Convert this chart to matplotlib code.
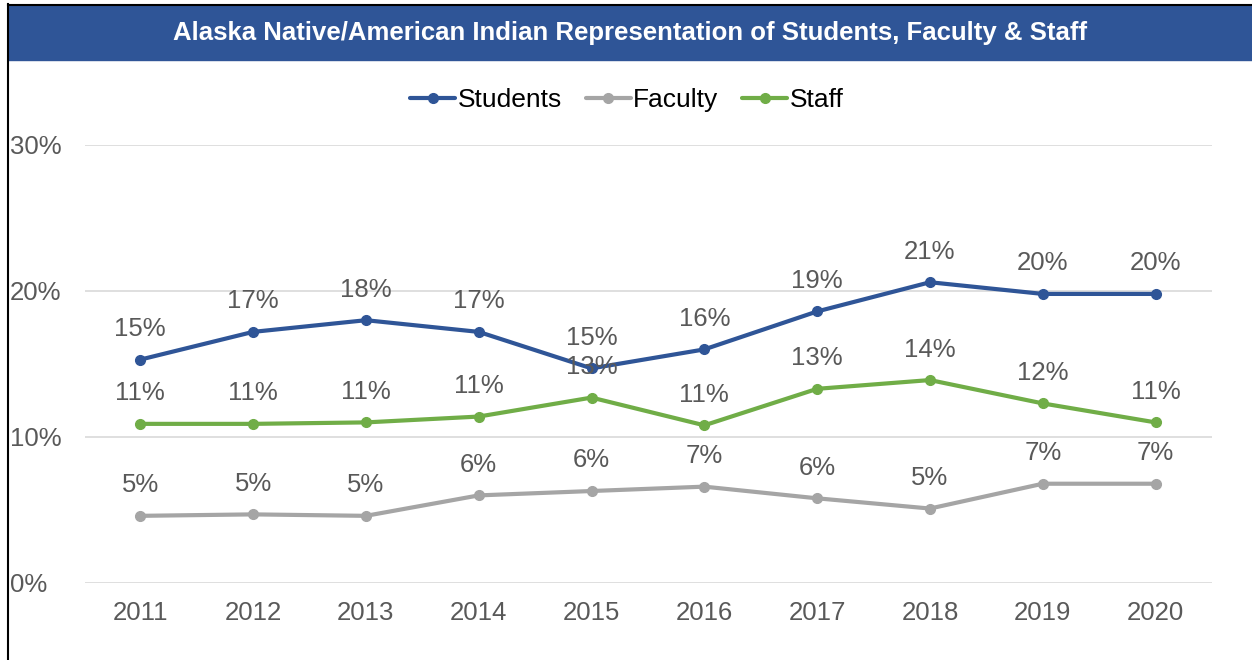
import matplotlib.pyplot as plt
from matplotlib.lines import Line2D
from matplotlib.patches import Rectangle
from matplotlib.ticker import PercentFormatter

plt.rcParams['font.family'] = ['Liberation Sans', 'DejaVu Sans']

## data
years = [2011, 2012, 2013, 2014, 2015, 2016, 2017, 2018, 2019, 2020]
students = [0.153, 0.172, 0.180, 0.172, 0.147, 0.160, 0.186, 0.206, 0.198, 0.198]
faculty = [0.046, 0.047, 0.046, 0.060, 0.063, 0.066, 0.058, 0.051, 0.068, 0.068]
staff = [0.109, 0.109, 0.110, 0.114, 0.127, 0.108, 0.133, 0.139, 0.123, 0.110]
yticks = [0, 0.10, 0.20, 0.30]
title = "Alaska Native/American Indian Representation of Students, Faculty & Staff"

series = [("Students", students, "#2F5597"),
          ("Faculty", faculty, "#A5A5A5"),
          ("Staff", staff, "#70AD47")]

W, H = 1252, 660
fig = plt.figure(figsize=(W / 100, H / 100), dpi=100)
ax = fig.add_axes([85 / W, 1 - 583 / H, (1212 - 85) / W, (583 - 145) / H])

# title bar
fig.add_artist(Rectangle((8 / W, 1 - 60 / H), 1 - 8 / W, 54 / H,
                         transform=fig.transFigure, color="#2F5597", zorder=0))
fig.text(630 / W, 1 - 33 / H, title, color="white", fontsize=18.5,
         fontweight="bold", ha="center", va="center")
# black frame edges (left + top)
fig.add_artist(Line2D([7.5 / W, 7.5 / W], [0, 1 - 4 / H], color="black", lw=1.5,
                      transform=fig.transFigure))
fig.add_artist(Line2D([7.5 / W, 1], [1 - 4.5 / H, 1 - 4.5 / H], color="black", lw=1.5,
                      transform=fig.transFigure))

for name, vals, col in series:
    ax.plot(years, vals, '-o', color=col, lw=3, markersize=7, label=name,
            solid_capstyle='round', zorder=3)
    for x, y in zip(years, vals):
        ax.annotate(f"{y:.0%}", (x, y), xytext=(0, 22), textcoords="offset points",
                    ha="center", va="center", fontsize=18.5, color="#595959")

ax.set_xlim(2010.51, 2020.5)
ax.set_ylim(0, 0.30)
ax.set_yticks(yticks)
ax.yaxis.set_major_formatter(PercentFormatter(1.0, decimals=0))
ax.set_xticks(years)
ax.set_xticklabels([str(y) for y in years])
ax.grid(True, axis='y', color="#D9D9D9", lw=1.2, zorder=0)
for sp in ax.spines.values():
    sp.set_visible(False)
ax.tick_params(length=0, labelsize=18.5, labelcolor="#595959")
ax.tick_params(axis='x', pad=13)
ax.tick_params(axis='y', pad=0)
for lbl in ax.get_yticklabels():
    lbl.set_horizontalalignment('left')
    lbl.set_x(-75 / (1212 - 85))

ax.legend(loc="center", bbox_to_anchor=(627 / W, 1 - 100 / H),
          bbox_transform=fig.transFigure, ncol=3, frameon=False,
          fontsize=19, handlelength=1.7, handletextpad=0.1, columnspacing=0.9)

fig.savefig("out.png", dpi=100, facecolor="white")
